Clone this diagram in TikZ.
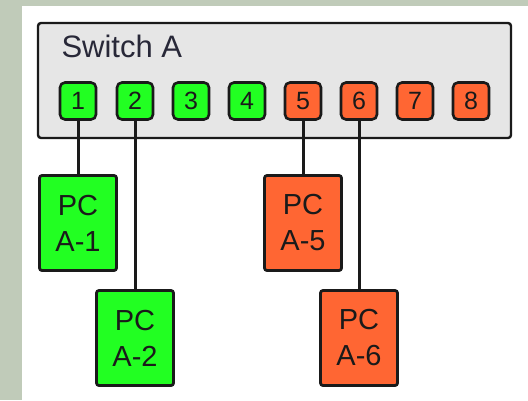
\documentclass[tikz,border=0pt]{standalone}
\usepackage{fontspec}
\setmainfont{Liberation Sans}
\definecolor{bgside}{RGB}{192,203,185}
\definecolor{swfill}{RGB}{230,230,230}
\definecolor{gfill}{RGB}{34,255,34}
\definecolor{ofill}{RGB}{255,102,51}
\definecolor{edge}{RGB}{26,26,26}
\definecolor{titletext}{RGB}{40,40,56}
\begin{document}
\begin{tikzpicture}[x=1pt,y=-1pt,
  portbox/.style={draw=edge,line width=2.6pt,rounded corners=5pt,minimum width=36pt,minimum height=37pt,inner sep=0pt,font=\fontsize{25}{28}\selectfont,text=edge},
  pcbox/.style={draw=edge,line width=2.8pt,rounded corners=2.5pt,minimum width=77pt,minimum height=95pt,inner sep=0pt,align=center,font=\fontsize{29}{36}\selectfont,text=edge},
  link/.style={draw=edge,line width=3pt}]
\useasboundingbox (0,0) rectangle (528,400);
\fill[bgside] (0,0) rectangle (528,400);
\fill[white] (22,6) rectangle (528,400);
\node[draw=edge,line width=2.4pt,rounded corners=3pt,fill=swfill,minimum width=473pt,minimum height=115pt,inner sep=0pt] (sw) at (274.5,80.5) {};
\node[anchor=base west,font=\fontsize{31}{36}\selectfont,text=titletext] (swl) at (58,57) {Switch A};
\foreach \i/\x/\c in {1/78/gfill,2/135/gfill,3/191/gfill,4/247/gfill,5/303/ofill,6/359/ofill,7/415/ofill,8/471/ofill}{
  \node[portbox,fill=\c] (p\i) at (\x,101) {\i};
}
\node[pcbox,fill=gfill] (pc1) at (78,223) {PC\\A-1};
\node[pcbox,fill=gfill] (pc2) at (135,338) {PC\\A-2};
\node[pcbox,fill=ofill] (pc5) at (303,223) {PC\\A-5};
\node[pcbox,fill=ofill] (pc6) at (359,338) {PC\\A-6};
\draw[link] (p1.south) -- (pc1.north);
\draw[link] (p2.south) -- (pc2.north);
\draw[link] (p5.south) -- (pc5.north);
\draw[link] (p6.south) -- (pc6.north);
\end{tikzpicture}
\end{document}
